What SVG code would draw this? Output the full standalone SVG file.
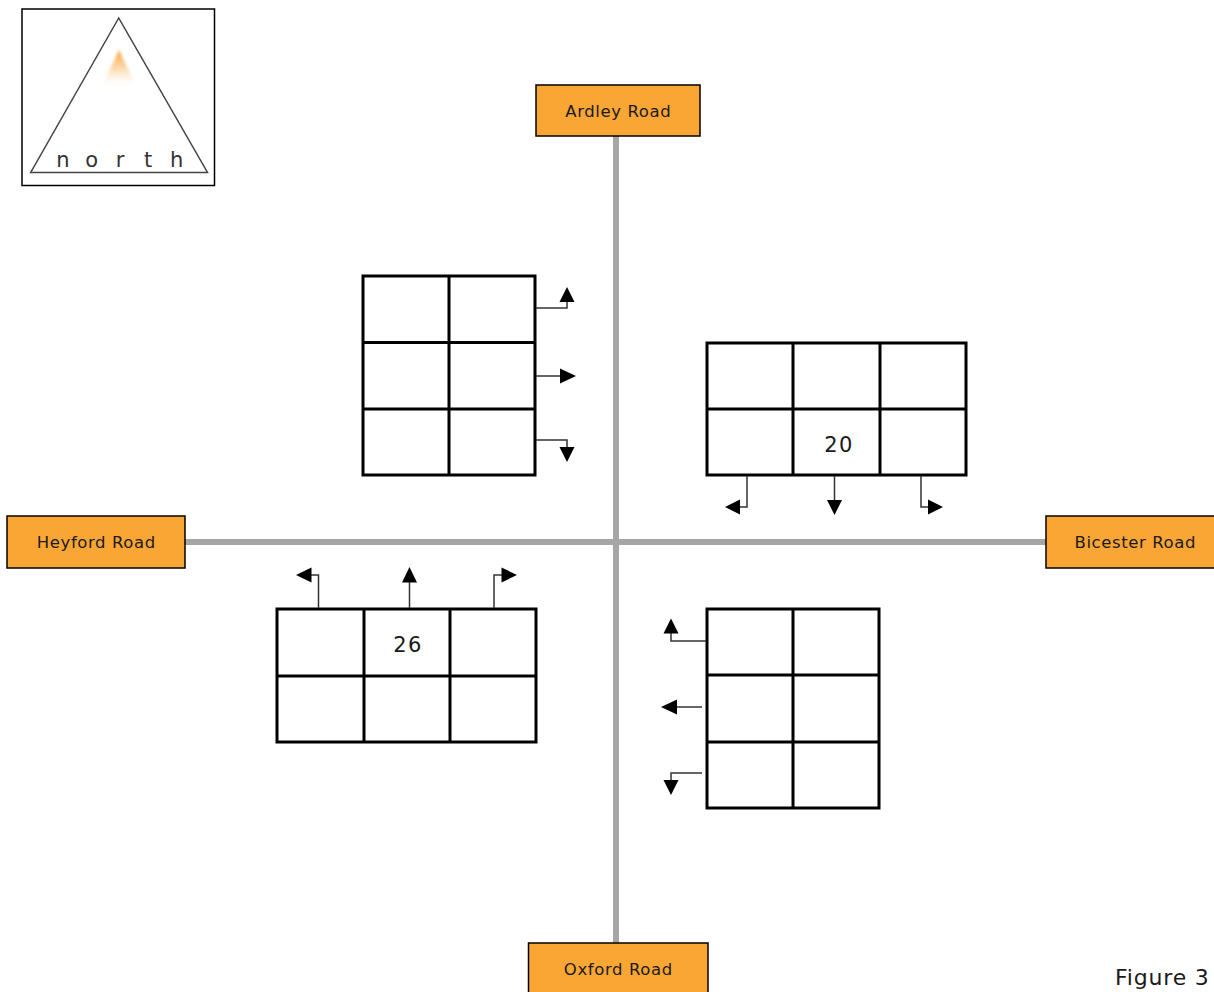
<svg xmlns="http://www.w3.org/2000/svg" width="1214" height="992" viewBox="0 0 1214 992">
<defs>
<style>
.road{stroke:#a6a6a6;stroke-width:6;fill:none}
.lbl{fill:#faa634;stroke:#000;stroke-width:1.5}
.lt{font-family:"DejaVu Sans","Liberation Sans",sans-serif;font-size:16.5px;letter-spacing:0.6px;fill:#1a1a1a;text-anchor:middle}
.grid{fill:#fff;stroke:#000;stroke-width:3}
.gl{stroke:#000;stroke-width:3;fill:none}
.num{font-family:"DejaVu Sans","Liberation Sans",sans-serif;font-size:21px;letter-spacing:1.5px;fill:#1a1a1a;text-anchor:middle}
.ar{stroke:#333;stroke-width:1.5;fill:none}
.ah{fill:#000}
</style>
<linearGradient id="glow" x1="0" y1="0" x2="0" y2="1">
<stop offset="0" stop-color="#f6a23a" stop-opacity="1"/>
<stop offset="0.5" stop-color="#f9c27a" stop-opacity="0.6"/>
<stop offset="1" stop-color="#ffffff" stop-opacity="0"/>
</linearGradient>
<filter id="soft" x="-50%" y="-50%" width="200%" height="200%">
<feGaussianBlur stdDeviation="1.5"/>
</filter>
</defs>
<rect width="1214" height="992" fill="#fff"/>

<g id="logo">
<rect x="22" y="9" width="192.5" height="176.5" fill="#fff" stroke="#000" stroke-width="1.5"/>
<polygon points="118.7,18 30.7,172.5 207.5,172.5" fill="none" stroke="#444" stroke-width="1.5"/>
<polygon points="119,50 101,88 137,88" fill="url(#glow)" filter="url(#soft)"/>
<text x="63 91.7 120 148 176.7" y="166.5" font-family="DejaVu Sans,sans-serif" font-size="21" fill="#333" text-anchor="middle">north</text>
</g>

<g id="roads">
<line class="road" x1="616" y1="136" x2="616" y2="943"/>
<line class="road" x1="185" y1="542" x2="1046" y2="542"/>
</g>

<g id="ardley">
<rect class="lbl" x="536" y="85" width="164" height="51"/>
<text class="lt" x="618.3" y="117">Ardley Road</text>
</g>
<g id="heyford">
<rect class="lbl" x="7" y="516" width="178" height="52"/>
<text class="lt" x="96.3" y="548">Heyford Road</text>
</g>
<g id="bicester">
<rect class="lbl" x="1046" y="516" width="170" height="52"/>
<text class="lt" x="1135.3" y="548">Bicester Road</text>
</g>
<g id="oxford">
<rect class="lbl" x="528.5" y="943" width="179.5" height="52"/>
<text class="lt" x="618.3" y="975">Oxford Road</text>
</g>

<g id="grid-nw">
<rect class="grid" x="363" y="276" width="172" height="199"/>
<path class="gl" d="M449,276V475M363,342.5H535M363,409H535"/>
</g>
<g id="grid-ne">
<rect class="grid" x="707" y="343" width="259" height="132"/>
<path class="gl" d="M793,343V475M880,343V475M707,409H966"/>
<text class="num" x="839" y="451.5">20</text>
</g>
<g id="grid-sw">
<rect class="grid" x="277" y="609" width="259" height="133"/>
<path class="gl" d="M364,609V742M450,609V742M277,676H536"/>
<text class="num" x="408" y="651.5">26</text>
</g>
<g id="grid-se">
<rect class="grid" x="707" y="609" width="172" height="199"/>
<path class="gl" d="M793,609V808M707,675H879M707,742H879"/>
</g>

<g id="connectors">
<path class="ar" d="M536,308H567V301"/>
<polygon class="ah" points="567,287 559.5,302 574.5,302"/>
<path class="ar" d="M536,376H561"/>
<polygon class="ah" points="576,376 560,368.5 560,383.5"/>
<path class="ar" d="M536,440H567V447"/>
<polygon class="ah" points="567,462 559.5,447 574.5,447"/>

<path class="ar" d="M747,476V507H740"/>
<polygon class="ah" points="725,507 740,499.5 740,514.5"/>
<path class="ar" d="M834.5,476V501"/>
<polygon class="ah" points="834.5,515 827,500 842,500"/>
<path class="ar" d="M921,476V507H928"/>
<polygon class="ah" points="943,507 928,499.5 928,514.5"/>

<path class="ar" d="M318.5,608V575H311"/>
<polygon class="ah" points="296,575 311.5,567.5 311.5,582.5"/>
<path class="ar" d="M409.5,608V582"/>
<polygon class="ah" points="409.5,567 402,582.5 417,582.5"/>
<path class="ar" d="M494,608V575H502"/>
<polygon class="ah" points="517,575 501.5,567.5 501.5,582.5"/>

<path class="ar" d="M706,641H671V633"/>
<polygon class="ah" points="671,618.5 663.5,633.5 678.5,633.5"/>
<path class="ar" d="M702,707H676"/>
<polygon class="ah" points="661,707 677,699.5 677,714.5"/>
<path class="ar" d="M702,773H671V780"/>
<polygon class="ah" points="671,795 663.5,780 678.5,780"/>
</g>

<text x="1115" y="985" font-family="DejaVu Sans,sans-serif" font-size="22" letter-spacing="0.8" fill="#1a1a1a">Figure 3</text>
</svg>
